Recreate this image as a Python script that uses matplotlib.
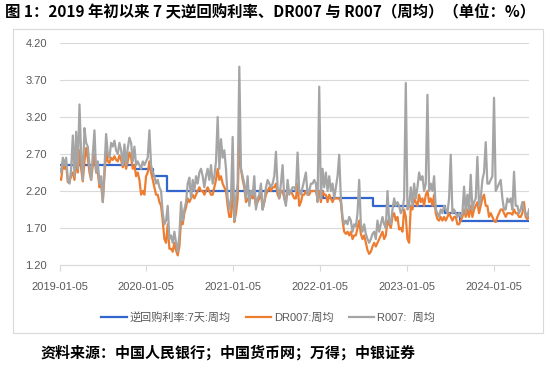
"""Weekly 7-day reverse repo rate, DR007 and R007 since early 2019."""

import matplotlib

matplotlib.use("Agg")
import matplotlib.dates as mdates
import matplotlib.pyplot as plt
import pandas as pd
from matplotlib.patches import Rectangle

plt.rcParams["font.family"] = ["Liberation Sans", "Noto Sans CJK SC"]

TITLE = "图 1：2019 年初以来 7 天逆回购利率、DR007 与 R007（周均）（单位：%）"
SOURCE = "资料来源：中国人民银行；中国货币网；万得；中银证券"
LABELS = ["逆回购利率:7天:周均", "DR007:周均", "R007:  周均"]

FIRST_WEEK = "2019-01-05"
YTICKS = [1.20, 1.70, 2.20, 2.70, 3.20, 3.70, 4.20]
XTICK_LABELS = ["2019-01-05", "2020-01-05", "2021-01-05", "2022-01-05", "2023-01-05", "2024-01-05"]

# policy rate: dates it changed and the new level
repo_dates = ["2019-01-05", "2019-11-18", "2020-02-03", "2020-03-30",
              "2022-01-17", "2022-08-15", "2023-06-13", "2023-08-15"]
repo_rate = [2.55, 2.50, 2.40, 2.20, 2.10, 2.00, 1.90, 1.80]

dr007 = [
    # 2019
    2.37, 2.35, 2.55, 2.50, 2.55, 2.32, 2.33, 2.40, 2.45, 2.35,
    2.60, 2.45, 2.75, 2.50, 2.33, 2.60, 2.78, 2.65, 2.45, 2.35,
    2.55, 2.70, 2.45, 2.45, 2.25, 2.30, 2.05, 2.40, 2.75, 2.60,
    2.58, 2.65, 2.62, 2.67, 2.62, 2.60, 2.68, 2.62, 2.52, 2.62,
    2.50, 2.60, 2.72, 2.65, 2.50, 2.55, 2.40, 2.45, 2.35, 2.15,
    2.20, 2.15,
    # 2020
    2.40, 2.45, 2.60, 2.45, 2.35, 2.25, 2.15, 2.15, 2.05, 2.00,
    1.80, 1.55, 1.50, 1.75, 1.42, 1.42, 1.38, 1.50, 1.40, 1.33,
    1.45, 1.80, 1.75, 1.90, 1.98, 2.10, 2.05, 2.10, 2.15, 2.10,
    2.15, 2.20, 2.25, 2.20, 2.20, 2.15, 2.20, 2.25, 2.20, 2.15,
    2.15, 2.25, 2.35, 2.50, 2.35, 2.40, 2.30, 2.25, 2.20, 2.00,
    1.85, 1.85,
    # 2021
    2.30, 1.78, 1.90, 2.10, 2.90, 2.50, 2.35, 2.25, 2.05, 2.10,
    2.05, 2.15, 2.10, 2.15, 2.00, 2.05, 2.10, 2.20, 1.95, 2.05,
    2.15, 2.20, 2.25, 2.20, 2.25, 2.25, 2.30, 2.15, 2.10, 2.20,
    2.20, 2.10, 2.05, 2.20, 2.20, 2.20, 2.15, 2.10, 2.10, 2.30,
    2.00, 2.05, 2.15, 2.15, 2.20, 2.15, 2.15, 2.20, 2.20, 2.20,
    2.20, 2.10,
    # 2022
    2.20, 2.05, 2.20, 2.15, 2.15, 2.05, 2.15, 2.10, 2.05, 2.10,
    2.10, 2.10, 2.10, 2.05, 1.80, 1.65, 1.62, 1.65, 1.60, 1.65,
    1.55, 1.60, 1.60, 1.70, 1.80, 1.62, 1.55, 1.60, 1.50, 1.40,
    1.35, 1.38, 1.45, 1.50, 1.45, 1.50, 1.55, 1.60, 1.65, 1.55,
    1.60, 1.80, 1.75, 1.70, 1.85, 1.90, 1.80, 1.85, 1.68, 1.70,
    1.65, 1.95,
    # 2023
    1.85, 1.55, 1.50, 2.00, 1.95, 2.10, 2.05, 2.00, 2.15, 2.05,
    2.10, 2.00, 2.15, 2.20, 2.05, 2.10, 2.00, 2.15, 1.90, 1.82,
    1.80, 1.85, 1.80, 1.85, 1.80, 1.85, 1.90, 1.85, 1.80, 1.85,
    1.85, 1.75, 1.75, 1.80, 1.85, 1.95, 1.85, 1.95, 1.85, 2.00,
    1.85, 1.95, 2.00, 2.05, 1.90, 2.00, 2.10, 2.15, 2.00, 2.00,
    1.85, 1.90,
    # 2024
    1.85, 1.80, 1.78, 1.85, 1.90, 1.95, 1.95, 1.90, 1.85, 1.90,
    1.90, 1.90, 1.88, 1.95, 1.90, 1.90, 1.85, 1.85, 1.90, 2.05,
    1.85, 1.82, 1.85,
]

r007 = [
    # 2019
    2.50, 2.45, 2.65, 2.55, 2.65, 2.35, 2.30, 2.50, 2.95, 2.40,
    3.00, 2.50, 3.37, 2.70, 2.35, 3.05, 2.85, 2.80, 2.55, 2.35,
    2.70, 3.02, 2.45, 2.60, 2.30, 2.40, 2.05, 2.50, 2.97, 2.70,
    2.65, 2.85, 2.80, 2.88, 2.75, 2.70, 2.85, 2.75, 2.55, 2.83,
    2.55, 2.78, 2.92, 2.85, 2.60, 2.80, 2.55, 2.60, 2.55, 2.50,
    2.60, 2.55,
    # 2020
    2.60, 2.65, 3.02, 2.55, 2.45, 2.40, 2.30, 2.35, 2.25, 2.20,
    1.90, 1.75, 1.80, 2.00, 1.55, 1.60, 1.50, 1.65, 1.50, 1.38,
    1.60, 2.05, 1.80, 1.95, 2.05, 2.30, 2.38, 2.10, 2.35, 2.20,
    2.40, 2.30, 2.45, 2.50, 2.40, 2.25, 2.40, 2.50, 2.35, 2.55,
    2.30, 2.40, 2.60, 3.20, 2.50, 2.90, 2.65, 2.75, 2.50, 2.10,
    1.95, 2.10,
    # 2021
    2.93, 1.80, 2.10, 2.30, 3.88, 2.50, 2.40, 2.30, 2.10, 2.40,
    2.00, 2.20, 2.15, 2.40, 1.95, 2.10, 2.15, 2.30, 1.95, 2.05,
    2.25, 2.35, 2.30, 2.25, 2.30, 2.40, 2.73, 2.25, 2.10, 2.30,
    2.55, 2.10, 2.00, 2.35, 2.15, 2.20, 2.25, 2.25, 2.20, 2.72,
    2.20, 2.15, 2.25, 2.35, 2.45, 2.15, 2.20, 2.30, 2.30, 2.35,
    2.30, 2.05,
    # 2022
    3.61, 2.10, 2.50, 2.25, 2.45, 2.20, 2.40, 2.20, 2.30, 2.10,
    2.25, 2.40, 2.69, 2.10, 1.85, 1.75, 1.80, 1.75, 1.85, 1.80,
    1.65, 1.75, 1.72, 1.90, 2.35, 1.75, 1.65, 1.75, 1.62, 1.55,
    1.50, 1.55, 1.62, 1.65, 1.55, 1.80, 1.65, 1.75, 1.85, 1.75,
    1.70, 2.20, 1.80, 1.75, 1.95, 2.10, 2.00, 2.05, 2.00, 1.90,
    1.95, 2.10,
    # 2023
    3.66, 1.95, 2.00, 2.25, 2.00, 2.30, 2.10, 2.25, 2.45, 2.35,
    2.40, 2.20, 2.30, 3.50, 2.20, 2.30, 2.20, 2.40, 1.95, 1.90,
    1.85, 1.95, 1.90, 2.00, 1.95, 1.90, 2.10, 2.69, 1.90, 1.95,
    1.90, 1.85, 1.90, 1.85, 1.90, 2.26, 1.90, 2.15, 1.95, 2.42,
    1.95, 2.05, 2.10, 2.66, 2.00, 2.10, 2.35, 2.45, 2.86, 2.30,
    2.30, 2.35,
    # 2024
    2.40, 3.46, 2.20, 2.25, 2.30, 2.35, 2.10, 1.95, 1.95, 2.10,
    2.05, 2.10, 1.95, 2.46, 2.00, 2.00, 1.90, 1.95, 2.05, 1.95,
    1.90, 1.85, 1.95,
]

weeks = pd.date_range(FIRST_WEEK, periods=len(dr007), freq="7D")
repo_x = list(pd.to_datetime(repo_dates)) + [weeks[-1]]
repo_y = repo_rate + [repo_rate[-1]]

BLUE = "#3366CC"
ORANGE = "#ED7D31"
GREY = "#A5A5A5"
GRID = "#D9D9D9"
TEXT = "#595959"

fig = plt.figure(figsize=(5.5, 3.69), dpi=100)
fig.patches.append(Rectangle((13 / 550, 1 - 333 / 369), 530 / 550, 304 / 369,
                             transform=fig.transFigure, fill=False,
                             edgecolor=GRID, linewidth=0.8))

ax = fig.add_axes([59.5 / 550, 1 - 265 / 369, 469.5 / 550, 222 / 369])
ax.plot(repo_x, repo_y, drawstyle="steps-post", color=BLUE, lw=1.6, label=LABELS[0])
ax.plot(weeks, dr007, color=ORANGE, lw=1.6, label=LABELS[1])
ax.plot(weeks, r007, color=GREY, lw=1.6, label=LABELS[2])

ax.set_xlim(weeks[0], weeks[-1])
ax.set_ylim(YTICKS[0], YTICKS[-1])
ax.set_yticks(YTICKS)
ax.set_yticklabels([f"{v:.2f}" for v in YTICKS])
ax.set_xticks(pd.to_datetime(XTICK_LABELS))
ax.xaxis.set_major_formatter(mdates.DateFormatter("%Y-%m-%d"))
ax.grid(axis="y", color=GRID, lw=0.8)
ax.set_axisbelow(True)
for side in ("top", "right", "left"):
    ax.spines[side].set_visible(False)
ax.spines["bottom"].set_color(GRID)
ax.tick_params(axis="y", length=0, pad=9, labelsize=8, labelcolor=TEXT)
ax.tick_params(axis="x", length=4, color=GRID, pad=8, labelsize=8, labelcolor=TEXT)

fig.legend(loc="center", bbox_to_anchor=(268 / 550, 1 - 317 / 369), ncol=3,
           frameon=False, fontsize=8, handlelength=2.3, columnspacing=1.4,
           handletextpad=0.2, labelcolor=TEXT)

fig.text(5 / 550, 1 - 12 / 369, TITLE, fontsize=11.1, fontweight="bold",
         va="center", ha="left", family=["Noto Sans CJK SC"])
fig.text(40 / 550, 1 - 353 / 369, SOURCE, fontsize=10.8, fontweight="bold",
         va="center", ha="left", family=["Noto Sans CJK SC"])

fig.savefig("out.png", dpi=100)
